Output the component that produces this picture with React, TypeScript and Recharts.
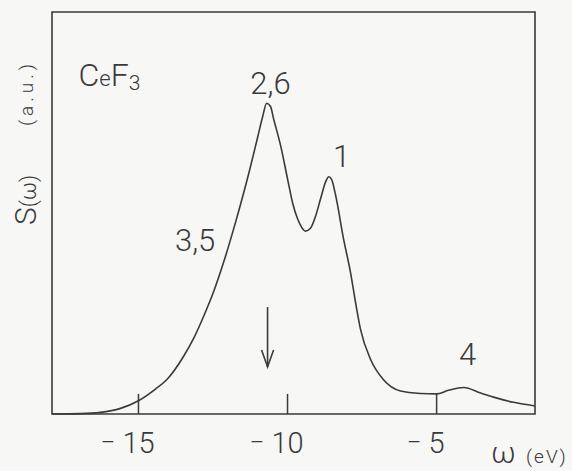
import {
  LineChart,
  Line,
  XAxis,
  YAxis,
  ReferenceArea,
  ReferenceLine,
  ReferenceDot,
  Label,
} from 'recharts';

// energies (eV) and spectral weight S(w)
const omega = [
  -17.89, -16.95, -16.28, -15.6, -15.0, -14.43, -14.03, -13.49, -13.15, -12.82,
  -12.48, -12.15, -11.74, -11.34, -11.01, -10.84, -10.7, -10.57, -10.47, -10.23,
  -10.0, -9.83, -9.66, -9.53, -9.4, -9.23, -9.06, -8.89, -8.72, -8.62,
  -8.52, -8.39, -8.12, -7.89, -7.72, -7.55, -7.21, -6.78, -6.21, -5.54,
  -5.0, -4.6, -4.09, -3.52, -3.09, -2.42, -1.7,
];
const intensity = [
  0, 0.1, 0.4, 1.4, 3.3, 6.2, 8.7, 14.3, 18.8, 24.2,
  30.4, 37.6, 47.8, 58.7, 68.6, 73.8, 77.3, 76.5, 73.5, 66.7,
  58.5, 52.5, 48.5, 46.5, 45.5, 46.2, 49.2, 53.6, 57.8, 59.0,
  58.3, 54.5, 43.5, 35.3, 27.8, 21.0, 13.5, 8.5, 5.7, 5.1,
  5.0, 5.9, 6.6, 5.2, 4.2, 2.9, 2.0,
];

const xTicks = [-15, -10, -5];
const xDomain = [-17.9, -1.7];

// peak labels: text, energy, height
const peakLabels = ['2,6', '1', '3,5', '4'];
const peakX = [-10.57, -8.19, -13.1, -3.96];
const peakY = [79.5, 61.4, 40.6, 12.2];

const arrowX = -10.67;
const arrowTop = 26.6;
const arrowTip = 11.7;

const data = omega.map((w, i) => ({ w, s: intensity[i] }));

const INK = '#3a3a3a';
const FONT = 'Roboto, "DejaVu Sans", sans-serif';

function XTick(props: any) {
  const { x, y, payload } = props;
  const digits = String(Math.abs(payload.value));
  const half = digits.length * 0.28 * 29;
  return (
    <g fontFamily={FONT} fontWeight={300} fill={INK}>
      <text x={x} y={y + 39} textAnchor="middle" fontSize={29}>
        {digits}
      </text>
      <text x={x - half - 7} y={y + 37} textAnchor="end" fontSize={26}>
        −
      </text>
    </g>
  );
}

export default function App() {
  return (
    <div
      style={{
        position: 'absolute',
        left: 0,
        top: 0,
        width: 572,
        height: 471,
        background: '#f7f7f5',
      }}
    >
      <LineChart
        width={572}
        height={471}
        data={data}
        margin={{ top: 12, right: 37, left: 0, bottom: 0 }}
      >
        <XAxis
          dataKey="w"
          type="number"
          domain={xDomain}
          ticks={xTicks}
          interval={0}
          allowDataOverflow
          axisLine={false}
          tickLine={false}
          tickSize={0}
          tickMargin={0}
          height={57}
          tick={<XTick />}
        >
          <Label
            content={() => (
              <text fontFamily={FONT} fontWeight={300} fill={INK}>
                <tspan x={491} y={463} fontSize={30}>ω</tspan>
                <tspan x={526} y={463} fontSize={19} letterSpacing={2}>(eV)</tspan>
              </text>
            )}
          />
        </XAxis>
        <YAxis
          type="number"
          domain={[0, 100]}
          width={52}
          axisLine={false}
          tick={false}
          tickLine={false}
        >
          <Label
            content={() => (
              <g fontFamily={FONT} fontWeight={300} fill={INK}>
                <text transform="rotate(-90, 36, 200)" x={36} y={200} textAnchor="middle">
                  <tspan fontSize={30}>S</tspan>
                  <tspan fontSize={22}>(ω)</tspan>
                </text>
                <text
                  transform="rotate(-90, 33, 93)"
                  x={33}
                  y={93}
                  textAnchor="middle"
                  fontSize={19}
                  letterSpacing={4}
                >
                  (a.u.)
                </text>
              </g>
            )}
          />
        </YAxis>

        <ReferenceArea
          x1={xDomain[0]}
          x2={xDomain[1]}
          y1={0}
          y2={100}
          fill="none"
          fillOpacity={0}
          stroke={INK}
          strokeWidth={1.6}
        />

        {xTicks.map((t) => (
          <ReferenceLine
            key={t}
            segment={[
              { x: t, y: 0 },
              { x: t, y: 5 },
            ]}
            stroke={INK}
            strokeWidth={1.5}
          />
        ))}

        <ReferenceLine
          segment={[
            { x: arrowX, y: arrowTop },
            { x: arrowX, y: arrowTip },
          ]}
          stroke={INK}
          strokeWidth={1.6}
        />
        <ReferenceDot
          x={arrowX}
          y={arrowTip}
          shape={(p: any) => (
            <path
              d={`M${p.cx - 6},${p.cy - 17} L${p.cx},${p.cy} L${p.cx + 6},${p.cy - 17}`}
              fill="none"
              stroke={INK}
              strokeWidth={1.6}
            />
          )}
        />

        {peakLabels.map((t, i) => (
          <ReferenceDot
            key={t}
            x={peakX[i]}
            y={peakY[i]}
            shape={(p: any) => (
              <text
                x={p.cx}
                y={p.cy}
                textAnchor="middle"
                fontFamily={FONT}
                fontWeight={300}
                fontSize={31}
                fill={INK}
              >
                {t}
              </text>
            )}
          />
        ))}

        <ReferenceDot
          x={-17.01}
          y={81.6}
          shape={(p: any) => (
            <text x={p.cx} y={p.cy} fontFamily={FONT} fontWeight={300} fill={INK}>
              <tspan fontSize={32}>C</tspan>
              <tspan fontSize={22}>e</tspan>
              <tspan fontSize={32}>F</tspan>
              <tspan fontSize={21} dy={4}>3</tspan>
            </text>
          )}
        />

        <Line
          type="monotone"
          dataKey="s"
          stroke={INK}
          strokeWidth={1.6}
          dot={false}
          isAnimationActive={false}
        />
      </LineChart>
    </div>
  );
}
